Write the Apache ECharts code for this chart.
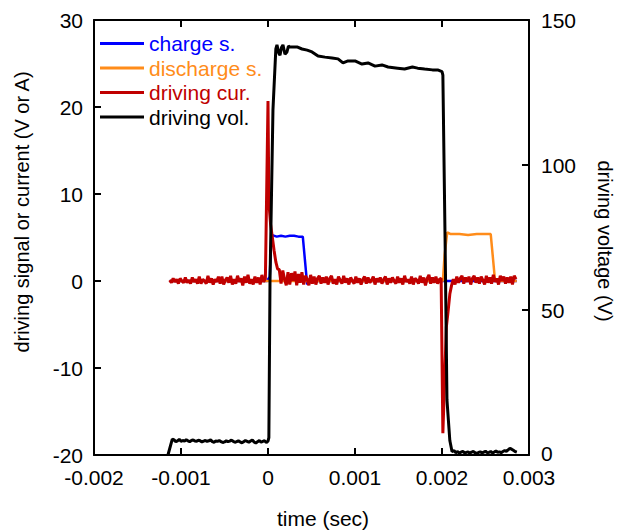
<!DOCTYPE html>
<html>
<head>
<meta charset="utf-8">
<script src="https://cdn.jsdelivr.net/npm/echarts@6/dist/echarts.min.js"></script>
<style>html,body{margin:0;padding:0;background:#fff}#c{width:619px;height:532px}</style>
</head>
<body>
<div id="c"></div>
<script>
// ---- tick labels / axes ----
const xTicks = [-0.002, -0.001, 0, 0.001, 0.002, 0.003];
const leftTicks = [-20, -10, 0, 10, 20, 30];
const rightTicks = [0, 50, 100, 150];
const seriesNames = ['charge s.', 'discharge s.', 'driving cur.', 'driving vol.'];

// ---- charge signal (left axis) ----
const chargeT = [-0.00113, -0.00001, 0.00002, 0.00004, 0.0001, 0.00015, 0.0002, 0.00025, 0.0003, 0.00035, 0.0004, 0.00045, 0.00048, 0.0006, 0.00286];
const chargeV = [0, 0, 0.5, 5.3, 5.1, 5.2, 5.1, 5.2, 5.2, 5.1, 5.1, -0.4, 0, 0, 0];

// ---- discharge signal (left axis) ----
const dischargeT = [-0.00113, 0.00201, 0.00203, 0.00206, 0.0021, 0.0022, 0.0023, 0.0024, 0.0025, 0.00256, 0.00261, 0.00286];
const dischargeV = [0, 0, 3.0, 5.6, 5.4, 5.4, 5.3, 5.4, 5.4, 5.4, 0, 0];

// ---- driving current (left axis) ----
const curPreStart = -0.00113, curStep = 0.00002;
const curPreV = [0.1,-0.2,0.3,-0.1,0.2,-0.3,0.3,0.0,-0.2,0.4,
  -0.2,0.1,-0.3,0.4,-0.1,0.2,-0.3,0.5,-0.3,0.2,
  0.0,-0.3,0.6,-0.2,0.3,-0.4,0.2,-0.1,0.5,-0.3,
  0.5,-0.4,0.1,0.4,-0.2,0.6,-0.4,0.2,-0.3,0.6,
  -0.1,0.3,-0.5,0.5,-0.2,0.7,-0.3,0.2,-0.4,0.5,
  -0.2,0.4,-0.4,0.7,-0.1,0.3];
const curSpike1T = [0, 0.00001, 0.00003, 0.00005, 0.00007, 0.00009, 0.00011];
const curSpike1V = [20.7, 9.0, 6.5, 5.0, 3.5, 2.2, 1.4];
const curMidStart = 0.00013;
const curMidV = [1.3,-0.3,1.2,0.2,-0.5,1.0,-0.4,0.9,0.0,1.1,
  -0.5,0.8,-0.2,1.0,-0.4,0.6,0.2,-0.5,0.7,-0.3,
  0.5,-0.4,0.3,0.6,-0.3,0.4,-0.2,0.5,-0.4,0.3,
  0.6,-0.3,0.2,-0.4,0.5,0.1,-0.3,0.6,-0.2,0.3,
  -0.4,0.4,0.0,-0.3,0.5,-0.2,0.3,-0.4,0.2,0.5,
  -0.3,0.4,-0.2,0.1,0.5,-0.4,0.3,-0.1,0.4,-0.3,
  0.2,0.5,-0.4,0.3,-0.2,0.4,0.0,-0.3,0.5,-0.2,
  0.3,-0.4,0.6,-0.1,0.2,-0.3,0.5,-0.4,0.3,0.1,
  -0.3,0.6,-0.2,0.4,-0.5,0.3,0.7,-0.3,0.4,-0.2,
  0.5,-0.3,0.2];
const curSpike2T = [0.00199, 0.00201, 0.00205, 0.00207, 0.00209, 0.00211];
const curSpike2V = [0.3, -17.5, -5.3, -3.5, -1.5, -0.5];
const curPostStart = 0.00213;
const curPostV = [0.2,-0.4,0.5,-0.2,0.3,0.6,-0.3,0.4,-0.1,0.5,
  -0.4,0.3,0.6,-0.2,0.4,-0.3,0.5,0.1,-0.4,0.6,
  -0.2,0.4,-0.3,0.7,-0.1,0.3,-0.4,0.6,0.0,0.5,
  -0.3,0.4,-0.2,0.5,-0.4,0.6,0.2];

// ---- driving voltage (right axis) ----
const volStartT = [-0.00115];
const volStartV = [0];
const volPreStart = -0.0011, volStep = 0.00002;
const volPreV = [5.5,5.2,4.6,4.9,5.4,4.7,5.0,4.8,5.3,4.9,
  4.6,5.0,5.2,4.8,4.7,5.1,4.9,4.5,4.8,5.0,
  4.7,4.9,5.2,4.6,4.4,4.8,4.7,5.0,4.6,4.3,
  4.5,4.9,4.6,4.8,5.1,4.7,4.4,4.6,4.9,4.5,
  4.2,4.6,5.0,4.7,4.4,4.8,5.2,4.5,4.1,4.6,
  5.0,4.4,4.7,4.9,4.3,4.8];
const volMainT = [0.00001,0.000023,0.000057,0.00009,0.000103,0.000125,0.000138,0.000155,0.000172,0.000195,
  0.000218,0.000235,0.000253,0.000333,0.000391,0.00045,0.000506,0.000575,0.000655,0.000736,
  0.000805,0.000862,0.00092,0.001,0.00108,0.00115,0.00123,0.00131,0.00138,0.00149,
  0.00157,0.00166,0.00172,0.0018,0.00189,0.00195,0.002,0.00201,0.002035,0.002057,
  0.00209,0.002115];
const volMainV = [6,60,119,140,141.4,138.5,137.9,140.5,141.4,138.2,
  139,141,140.7,140.7,140,139.6,139,137.6,137.2,136.9,
  136.6,135.2,135.9,135.9,134.8,135.2,134.1,134.5,133.8,133.4,
  133.1,133.8,133.4,133.1,132.8,132.8,132.2,131,75,19,
  5,1.2];
const volPostStart = 0.00214;
const volPostV = [1.5,0.8,1.2,0.6,1.0,1.3,0.7,0.9,1.1,0.6,
  1.0,1.2,0.8,0.5,0.9,1.1,0.7,1.0,1.3,0.8,
  0.9,1.2,0.7,1.0,1.4,0.9,1.1,0.8,1.2,1.5,
  1.3,1.8,2.3,2.0,1.6,1.2,1.0];

// ---- build pairs ----
function pairs(ts, vs) { return ts.map((t, i) => [t, vs[i]]); }
function grid(start, step, vs) { return vs.map((v, i) => [+(start + i * step).toFixed(7), v]); }

const chargeData = pairs(chargeT, chargeV);
const dischargeData = pairs(dischargeT, dischargeV);
const curData = [].concat(
  grid(curPreStart, curStep, curPreV),
  pairs(curSpike1T, curSpike1V),
  grid(curMidStart, curStep, curMidV),
  pairs(curSpike2T, curSpike2V),
  grid(curPostStart, curStep, curPostV));
const volData = [].concat(
  pairs(volStartT, volStartV),
  grid(volPreStart, volStep, volPreV),
  pairs(volMainT, volMainV),
  grid(volPostStart, volStep, volPostV));

const FONT = '"Liberation Sans", Arial, sans-serif';
const colors = ['#0000ff', '#ff8c1a', '#c00000', '#000000'];

const axisLine = { show: true, onZero: false, lineStyle: { color: '#000', width: 2 } };
const axisTick = { show: true, inside: true, length: 7, lineStyle: { color: '#000', width: 2 } };
const lbl = { color: '#000', fontSize: 21, fontFamily: FONT, lineHeight: 17 };

const chart = echarts.init(document.getElementById('c'), null, { renderer: 'svg' });
chart.setOption({
  backgroundColor: '#fff',
  animation: false,
  grid: { left: 94, right: 90, top: 20, bottom: 77, containLabel: false },
  legend: {
    orient: 'vertical', left: 100, top: 33, padding: 0, itemWidth: 44, itemHeight: 3, itemGap: 3.5,
    icon: 'rect',
    textStyle: { fontSize: 21, fontFamily: FONT, lineHeight: 20 },
    data: seriesNames.map((n, i) => ({ name: n, textStyle: { color: colors[i] } }))
  },
  xAxis: [
    { type: 'value', position: 'bottom', min: xTicks[0], max: xTicks[xTicks.length - 1], interval: 0.001,
      axisLine, axisTick, splitLine: { show: false },
      axisLabel: Object.assign({}, lbl, { margin: 14, formatter: v => String(+(+v).toFixed(3)) }) },
    { type: 'value', position: 'top', min: xTicks[0], max: xTicks[xTicks.length - 1], interval: 0.001,
      axisLine, axisTick, splitLine: { show: false }, axisLabel: { show: false } }
  ],
  yAxis: [
    { type: 'value', position: 'left', min: leftTicks[0], max: leftTicks[leftTicks.length - 1], interval: 10,
      axisLine, axisTick, splitLine: { show: false }, axisLabel: Object.assign({ margin: 11 }, lbl) },
    { type: 'value', position: 'right', min: rightTicks[0], max: rightTicks[rightTicks.length - 1], interval: 50,
      axisLine, axisTick, splitLine: { show: false },
      axisLabel: Object.assign({}, lbl, { margin: 12, formatter: v => (v === 0 ? '{lift|0}' : String(v)),
        rich: { lift: { fontSize: 21, fontFamily: FONT, color: '#000', lineHeight: 17, padding: [0, 0, 4, 0] } } }) }
  ],
  graphic: [
    { type: 'text', x: 22, y: 212, rotation: Math.PI / 2,
      style: { text: 'driving signal or current (V or A)', fill: '#000', fontSize: 20, fontFamily: FONT, align: 'center', verticalAlign: 'middle' } },
    { type: 'text', x: 605, y: 241, rotation: -Math.PI / 2,
      style: { text: 'driving voltage (V)', fill: '#000', fontSize: 20, fontFamily: FONT, align: 'center', verticalAlign: 'middle' } },
    { type: 'text', x: 323, y: 518,
      style: { text: 'time (sec)', fill: '#000', fontSize: 21, fontFamily: FONT, align: 'center', verticalAlign: 'middle' } }
  ],
  series: [
    { name: seriesNames[0], type: 'line', data: chargeData, xAxisIndex: 0, yAxisIndex: 0, showSymbol: false, symbol: 'none',
      lineStyle: { color: colors[0], width: 2.5 }, itemStyle: { color: colors[0] }, z: 2 },
    { name: seriesNames[1], type: 'line', data: dischargeData, xAxisIndex: 0, yAxisIndex: 0, showSymbol: false, symbol: 'none',
      lineStyle: { color: colors[1], width: 2.5 }, itemStyle: { color: colors[1] }, z: 2 },
    { name: seriesNames[2], type: 'line', data: curData, xAxisIndex: 0, yAxisIndex: 0, showSymbol: false, symbol: 'none',
      lineStyle: { color: colors[2], width: 3 }, itemStyle: { color: colors[2] }, z: 3 },
    { name: seriesNames[3], type: 'line', data: volData, xAxisIndex: 0, yAxisIndex: 1, showSymbol: false, symbol: 'none',
      lineStyle: { color: colors[3], width: 3 }, itemStyle: { color: colors[3] }, z: 4 }
  ]
});
</script>
</body>
</html>
